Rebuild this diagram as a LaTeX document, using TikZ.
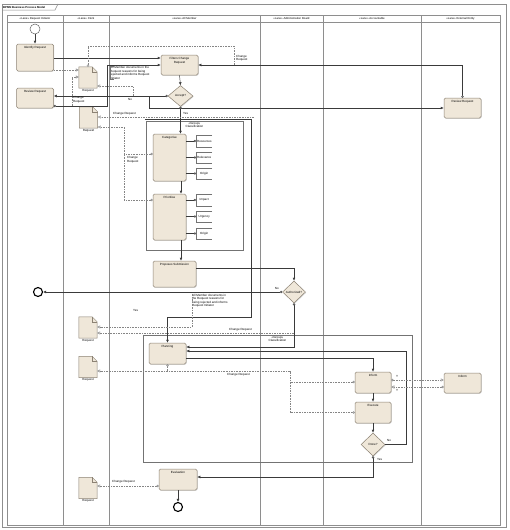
\documentclass[tikz,border=0pt]{standalone}
\usepackage{fontspec}
\setmainfont{Liberation Sans}
\usetikzlibrary{shapes.geometric,arrows.meta,shadows}
\definecolor{taskfill}{HTML}{EFE7D9}
\definecolor{taskline}{HTML}{8C8274}
\definecolor{lanecol}{HTML}{8E8E8E}
\definecolor{flowcol}{HTML}{3A3A3A}
\definecolor{dashcol}{HTML}{858585}
\newcommand\docshape[1]{%
  \draw[taskline,line width=0.45pt,fill=taskfill] (#1.south west) -- (#1.north west) -- ([xshift=-5pt]#1.north east) -- ([yshift=-5pt]#1.north east) -- (#1.south east) -- cycle;
  \draw[taskline,line width=0.45pt] ([xshift=-5pt]#1.north east) -- ([xshift=-5pt,yshift=-5pt]#1.north east) -- ([yshift=-5pt]#1.north east);}
\tikzset{
  lane/.style={draw=lanecol, line width=0.7pt},
  hdr/.style={inner sep=0pt, font=\fontsize{2.8}{3.2}\selectfont},
  task/.style={draw=taskline, fill=taskfill, rounded corners=1.5pt, line width=0.5pt, inner sep=0pt,
     drop shadow={shadow xshift=0.7pt,shadow yshift=-0.7pt,opacity=0.35}},
  tlab/.style={anchor=north, yshift=-2.5pt, inner sep=0pt, align=center},
  gw/.style={diamond, draw=taskline, fill=taskfill, line width=0.5pt, inner sep=0pt,
     drop shadow={shadow xshift=0.7pt,shadow yshift=-0.7pt,opacity=0.35}},
  startev/.style={circle, draw=black!60, fill=white, line width=0.5pt, minimum size=10pt, inner sep=0pt},
  endev/.style={circle, draw=black, fill=white, line width=1.1pt, minimum size=9pt, inner sep=0pt},
  docn/.style={inner sep=0pt, minimum width=18pt, minimum height=21pt, label={[dlab]south:Request}},
  dlab/.style={inner sep=0.6pt, anchor=north},
  grp/.style={draw=black!55, line width=0.5pt, inner sep=0pt},
  glab/.style={anchor=north, yshift=-1.2pt, inner sep=0pt, align=center},
  annot/.style={draw=black!55, line width=0.4pt},
  annode/.style={inner sep=1pt, align=left, anchor=west},
  flow/.style={draw=flowcol, line width=0.45pt, -{Latex[length=3pt,width=2.8pt]}},
  flowc/.style={draw=flowcol, line width=0.45pt, {Circle[fill=white,length=2.4pt,width=2.4pt]}-{Latex[length=3pt,width=2.8pt]}},
  assoc/.style={draw=dashcol, line width=0.45pt, dash pattern=on 1.6pt off 1pt, -{Triangle[open,fill=white,length=3pt,width=3pt]}},
  assocc/.style={draw=dashcol, line width=0.45pt, dash pattern=on 1.6pt off 1pt, {Circle[fill=white,length=2.4pt,width=2.4pt]}-{Triangle[open,fill=white,length=3pt,width=3pt]}},
  assoccc/.style={draw=dashcol, line width=0.45pt, dash pattern=on 1.6pt off 1pt, {Circle[fill=white,length=2.4pt,width=2.4pt]}-},
  txt/.style={inner sep=0pt, align=left}
}
\begin{document}
\begin{tikzpicture}[x=1pt,y=-1pt,font=\fontsize{3}{3.5}\selectfont]
\useasboundingbox (0,0) rectangle (509,530);
\fill[white] (0,0) rectangle (509,530);
% outer frame and title tab
\draw[lanecol,line width=0.5pt] (2,4) rectangle (506,527);
\draw[lanecol,line width=0.5pt] (2,10) -- (55,10) -- (58,4);
\node[hdr,anchor=west,font=\fontsize{2.8}{3.2}\selectfont\bfseries] (title) at (3,7) {BPMN Business Process Model};
% pool and lanes
\draw[lane] (7,15) rectangle (500,525);
\draw[lane] (7,22) -- (500,22);
\foreach \x in {63,109,260,323,421} {\draw[lane] (\x,15) -- (\x,525);}
\node[hdr] (h1) at (35,18.5) {«Lane» Request Initiator};
\node[hdr] (h2) at (86,18.5) {«Lane» Clerk};
\node[hdr] (h3) at (184.5,18.5) {«Lane» All Member};
\node[hdr] (h4) at (291.5,18.5) {«Lane» Administration Board};
\node[hdr] (h5) at (372,18.5) {«Lane» Accountable};
\node[hdr] (h6) at (460.5,18.5) {«Lane» External Entity};
% groups
\node[grp, minimum width=97pt, minimum height=129pt, label={[glab]north:«Group»\\Classification}] (g1) at (194.5,185.5) {};
\node[grp, minimum width=269pt, minimum height=127pt, label={[glab]north:«Group»\\Classification}] (g2) at (277.5,398.5) {};
% events
\node[startev] (start) at (35,29) {};
\node[endev] (endA) at (38,292) {};
\node[endev] (endB) at (178,507) {};
% tasks
\node[task, minimum width=37pt, minimum height=27pt, label={[tlab]north:Identify Request}] (ident) at (35,57.5) {};
\node[task, minimum width=37pt, minimum height=20pt, label={[tlab]north:Review Request}] (revA) at (35,98) {};
\node[task, minimum width=37pt, minimum height=20pt, label={[tlab]north:Filters Change\\Request}] (filt) at (179.5,65) {};
\node[task, minimum width=37pt, minimum height=20pt, label={[tlab]north:Review Request}] (revE) at (462.5,108) {};
\node[task, minimum width=33pt, minimum height=47pt, label={[tlab]north:Categorise}] (cat) at (169.5,157.5) {};
\node[task, minimum width=33pt, minimum height=46pt, label={[tlab]north:Prioritise}] (pri) at (169.5,217) {};
\node[task, minimum width=43pt, minimum height=26pt, label={[tlab]north:Proposes Submission}] (prop) at (174.5,274) {};
\node[task, minimum width=37pt, minimum height=21pt, label={[tlab]north:Planning}] (plan) at (167.5,353.5) {};
\node[task, minimum width=36pt, minimum height=21pt, label={[tlab]north:Inform}] (inform) at (373,382.5) {};
\node[task, minimum width=37pt, minimum height=20pt, label={[tlab]north:Inform}] (infE) at (462.5,383) {};
\node[task, minimum width=36pt, minimum height=21pt, label={[tlab]north:Execute}] (exec) at (373,412.5) {};
\node[task, minimum width=38pt, minimum height=21pt, label={[tlab]north:Evaluation}] (eval) at (178,479.5) {};
% gateways
\node[gw, minimum width=25pt, minimum height=21pt] (acc) at (180.5,96) {Accept?};
\node[gw, minimum width=23pt, minimum height=22pt] (auth) at (294,292) {Authorized?};
\node[gw, minimum width=24pt, minimum height=23pt] (done) at (373,444.5) {Done?};
% documents
\node[docn] (doc1) at (88,77.5) {};
\node[docn] (doc2) at (88.5,117.5) {};
\node[docn] (doc3) at (88,327.5) {};
\node[docn] (doc4) at (88,367) {};
\node[docn] (doc5) at (88,488) {};
\docshape{doc1}\docshape{doc2}\docshape{doc3}\docshape{doc4}\docshape{doc5}
% annotations
\node[annode, minimum width=16pt, minimum height=12pt] (a1) at (196,141) {Resources};
\node[annode, minimum width=16pt, minimum height=11pt] (a2) at (196,157.5) {Relevance};
\node[annode, minimum width=16pt, minimum height=11pt] (a3) at (196,173.5) {Origin};
\node[annode, minimum width=16pt, minimum height=12pt] (a4) at (196,200) {Impact};
\node[annode, minimum width=16pt, minimum height=11pt] (a5) at (196,216.5) {Urgency};
\node[annode, minimum width=16pt, minimum height=11pt] (a6) at (196,233.5) {Origin};
\foreach \a in {a1,a2,a3,a4,a5,a6} {
  \draw[annot] ([xshift=16pt]\a.north west) -- (\a.north west) -- (\a.south west) -- ([xshift=16pt]\a.south west);
}
\foreach \a in {a1,a2,a3} {\draw[draw=flowcol,line width=0.4pt,{Circle[fill=white,length=2.2pt,width=2.2pt]}-] (\a.west) -- (cat.east |- \a.west);}
\foreach \a in {a4,a5,a6} {\draw[draw=flowcol,line width=0.4pt,{Circle[fill=white,length=2.2pt,width=2.2pt]}-] (\a.west) -- (pri.east |- \a.west);}
\node[txt, anchor=north west] (an1) at (110,66.5) {All Member documents in the\\Request reasons for being\\rejected and informs Request\\Initiator};
\node[txt, anchor=north west] (an2) at (192,294) {All Member documents in\\the Request reasons for\\being rejected and informs\\Request Initiator};
% sequence flows
\draw[flow] (start) -- (ident);
\draw[flow] (ident.east |- 0,58) -- (filt.west |- 0,58);
\draw[flowc] (revA.east |- 0,106) -- (107,106) -- (107,65) -- (filt.west |- 0,65);
\draw[flow] (filt.south) -- (acc.north);
\draw[flowc] (acc.west) -- (revA.east |- acc.west);
\draw[flow] (149,96) -- (149,108) -- (revE.west |- 0,108);
\draw[flowc] (revE.north) -- (revE.north |- 0,65) -- (filt.east |- 0,65);
\draw[flowc] (acc.south) -- (acc.south |- cat.north);
\draw[flow] (cat.south -| 181,0) -- (pri.north -| 181,0);
\draw[flow] (pri.south -| 181,0) -- (prop.north -| 181,0);
\draw[flow] (prop.east |- 0,268) -- (auth.north |- 0,268) -- (auth.north);
\draw[flowc] (auth.west) -- (endA.east);
\draw[flowc] (auth.south) -- (auth.south |- 0,347) -- (plan.east |- 0,347);
\draw[flow] (145,119.5) -- (251,119.5) -- (251,317) -- (plan.north |- 0,317) -- (plan.north);
\draw[flow] (plan.east |- 0,358) -- (inform.north |- 0,358) -- (inform.north);
\draw[flow] (inform.south) -- (exec.north);
\draw[flow] (exec.south) -- (done.north);
\draw[flow] (done.east) -- (406,444.5) -- (406,351) -- (plan.east |- 0,351);
\draw[flowc] (done.south) -- (done.south |- 0,477) -- (eval.east |- 0,477);
\draw[flow] (eval.south) -- (endB.north);
% data associations
\draw[assoc] (ident.east |- 0,70) -- (doc1.west |- 0,70);
\draw[assoccc] (doc1.north) -- (doc1.north |- 0,46) -- (234,46) -- (234,65);
\draw[assoc] (133,96) -- (133,86) -- (doc1.east |- 0,86);
\draw[assoc] (72,106) -- (72,77) -- (doc1.west |- 0,77);
\draw[assoc] (254,117) -- (doc2.east |- 0,117);
\draw[assocc] (cat.west |- 0,154) -- (124,154) -- (124,127) -- (doc2.east |- 0,127);
\draw[assoccc] (pri.west |- 0,200) -- (124,200) -- (124,154);
\draw[assoc] (294,333) -- (doc3.east |- 0,333);
\draw[assoc] (an2.north west) -- (an2.north west |- 0,327) -- (doc3.east |- 0,327);
\draw[assoccc] (plan.south) -- (plan.south |- 0,371);
\draw[assocc] (exec.west) -- (290,412.5) -- (290,371) -- (doc4.east |- 0,371);
\draw[assoccc] (inform.west |- 0,382) -- (290,382);
\draw[assocc] (inform.east |- 0,380) -- (infE.west |- 0,380);
\draw[assocc] (infE.west |- 0,387) -- (inform.east |- 0,387);
\draw[assocc] (eval.west |- 0,486) -- (doc5.east |- 0,486);
\draw[annot] ([xshift=4pt]an1.north west) -- (an1.north west) -- (an1.south west) -- ([xshift=4pt]an1.south west);
% labels
\node[txt, anchor=west] (l1) at (128,99) {No};
\node[txt, anchor=west] (l2) at (183,113) {Yes};
\node[txt, anchor=east] (l3) at (279,288) {No};
\node[txt, anchor=west] (l4) at (133,310) {Yes};
\node[txt, anchor=west] (l5) at (387,440) {No};
\node[txt, anchor=west] (l6) at (377,459.5) {Yes};
\node[txt, anchor=north west] (c1) at (236,55) {Change\\Request};
\node[txt, anchor=north west] (c2) at (73,96.5) {Change\\Request};
\node[txt, anchor=west] (c3) at (113,114) {Change Request};
\node[txt, anchor=north west] (c4) at (127,156.5) {Change\\Request};
\node[txt, anchor=west] (c5) at (229,329.5) {Change Request};
\node[txt, anchor=west] (c6) at (227,375) {Change Request};
\node[txt, anchor=west] (c7) at (112,482) {Change Request};
\node[txt, anchor=west] (y1) at (396,376.5) {Y};
\node[txt, anchor=west] (y2) at (396,390.5) {Y};
\end{tikzpicture}
\end{document}
